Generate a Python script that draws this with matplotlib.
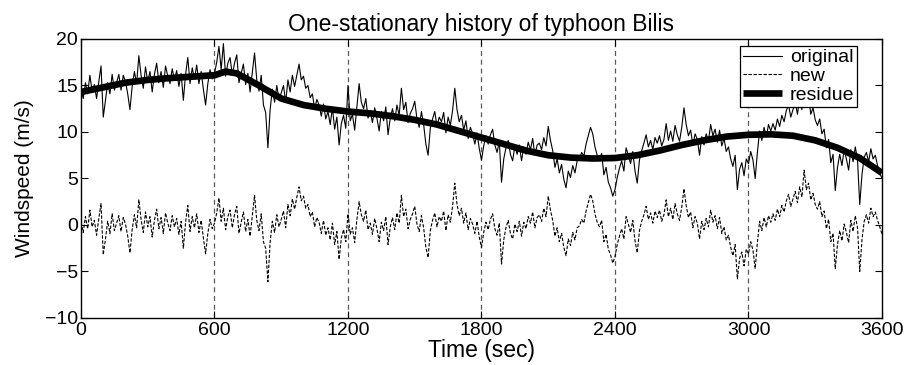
import numpy as np
import matplotlib
matplotlib.use("Agg")
import matplotlib.pyplot as plt

# время отсчётов (с), шаг 10 с
time_step = 10
time_end = 3600

# флуктуации ("new"), значения
new_speed = [
    0.3, -0.8, 0.9, -0.4, 1.6, -0.2, 0.5, -1.1, 0.7, 2.3, -3.2, -1.5, 0.4, -0.9, 1.2, -0.6, 0.2, 1.0, -0.7, 0.8,
    0.1, -1.2, -3.0, -0.5, 1.1, -0.3, 2.7, 0.6, -0.8, 1.4, -0.2, 0.9, -1.3, 0.5, 1.7, -0.4, 0.8, -0.9, 1.3, 0.2,
    -0.6, 1.0, -0.2, 0.7, -1.0, 0.4, -2.5, 0.3, 2.1, -0.7, 0.9, -0.3, 1.2, -0.8, 0.5, -1.4, -3.1, -0.9, 0.6, -0.4,
    0.2, 1.3, 2.9, 0.4, 1.8, -0.5, 0.9, 1.6, -0.3, 1.1, 2.0, -0.9, 0.3, 1.4, -0.7, 0.6, -1.2, 1.0, 3.2, 0.5,
    -0.6, 1.2, -1.8, -2.5, -6.1, -1.9, 0.4, -0.8, 1.1, -0.2, 0.6, 1.5, -0.3, 2.2, 1.0, 2.8, 1.7, 3.0, 4.1, 2.6,
    3.1, 1.8, 2.2, 0.9, 1.4, -0.2, 0.8, 0.3, -0.9, 0.5, -1.1, -0.3, -1.6, 0.2, -2.1, -0.7, -3.7, -1.4, -0.5, -1.8,
    1.2, -1.0, -0.3, -1.9, 0.6, 2.5, 1.1, 0.4, 1.6, -0.5, 0.2, -1.0, 0.7, -0.4, -1.8, 0.3, -0.6, 0.9, -2.1, -0.2,
    0.8, -0.5, 1.3, 0.2, 3.2, 0.9, 1.7, -0.4, 0.6, 1.2, 2.0, 0.1, -0.7, 1.0, -0.3, -2.4, -3.5, -0.6, 0.5, 1.3,
    -0.2, 0.9, 0.4, 1.5, -0.6, 1.1, 0.3, 2.0, 4.5, 2.2, 1.0, 1.8, 0.2, 1.3, -0.5, 0.7, 0.1, -0.9, 0.4, -1.3,
    -2.4, -0.8, 0.3, -0.5, 0.6, 1.2, -0.4, -1.1, 0.2, -4.2, -1.6, -0.3, 0.5, -0.9, -1.5, 0.1, -0.7, 0.4, -1.2, 0.3,
    -0.4, 0.9, 0.2, 1.4, -0.3, 0.8, 1.1, 0.4, 1.8, 0.9, 3.1, 1.6, 0.5, -1.2, -0.3, -1.8, -0.9, -2.4, -3.3, -1.5,
    -2.2, -0.8, -1.6, -0.3, -0.1, 0.6, 0.2, 1.5, 2.4, 3.3, 2.6, 1.2, 0.3, -0.2, 0.5, -1.8, -1.0, -2.6, -3.2, -4.1,
    -3.4, -2.1, -1.2, -0.4, -1.5, 0.9, 0.1, -0.8, 0.5, -1.7, -3.0, -0.6, 0.4, 1.1, 2.0, 0.6, 1.3, 0.2, 1.5, 0.8,
    1.6, 0.4, 1.1, 2.7, 0.9, 1.8, 0.6, 2.3, 1.2, 0.5, 1.9, 3.9, 2.1, 0.8, 1.4, -0.3, 0.9, 0.2, -1.5, 0.4,
    -0.5, 0.7, -0.2, 1.6, 0.3, 1.0, -0.4, 0.8, -0.9, -0.2, -1.6, -1.1, -2.4, -3.3, -2.1, -5.8, -3.6, -2.9, -4.4, -2.6,
    -3.1, -1.8, -2.7, -4.7, -1.9, 0.4, -0.6, 0.8, -0.2, 1.0, 0.3, 1.2, 0.5, 1.7, 0.9, 2.1, 1.4, 2.6, 3.3, 2.0,
    2.8, 3.6, 2.4, 4.1, 3.0, 5.9, 3.8, 4.5, 2.7, 3.4, 2.2, 1.7, 2.5, 0.9, 1.5, -0.4, 0.6, -1.8, -0.9, -4.7,
    -2.1, -0.6, -1.7, 0.1, -0.8, -1.9, 0.5, -0.7, 1.0, -0.3, -5.0, -1.6, 0.4, 1.1, 0.2, 1.8, 0.9, 1.4, 0.5, -0.2,
    -1.0,
]

# исходный ряд ("original")
original_speed = [
    14.6, 13.6, 15.3, 14.1, 16.1, 14.4, 15.1, 13.6, 15.4, 17.1, 11.6, 13.4, 15.3, 14.1, 16.2, 14.5, 15.3, 16.2, 14.5, 16.1,
    15.4, 14.1, 12.4, 14.9, 16.5, 15.2, 18.2, 16.1, 14.7, 17.0, 15.4, 16.5, 14.3, 16.2, 17.4, 15.3, 16.5, 14.8, 17.1, 16.0,
    15.2, 16.8, 15.6, 16.6, 14.9, 16.3, 13.4, 16.2, 18.0, 15.2, 16.9, 15.7, 17.2, 15.2, 16.5, 14.6, 12.9, 15.2, 16.7, 15.7,
    16.3, 17.5, 19.2, 16.7, 19.5, 16.0, 17.4, 18.0, 16.1, 17.4, 18.3, 15.3, 16.3, 17.3, 15.1, 16.3, 14.3, 16.4, 18.5, 15.6,
    14.4, 16.1, 12.9, 12.1, 8.3, 12.4, 14.6, 13.2, 15.0, 13.5, 14.2, 15.0, 13.2, 15.6, 14.3, 16.1, 14.9, 16.1, 17.3, 15.6,
    16.0, 14.7, 15.0, 13.7, 14.1, 12.5, 13.5, 12.9, 11.7, 13.0, 11.4, 12.2, 10.8, 12.6, 10.3, 11.6, 8.6, 10.9, 11.8, 10.4,
    15.0, 11.2, 11.9, 10.2, 12.7, 15.2, 13.2, 12.5, 13.6, 11.5, 12.2, 11.0, 12.6, 11.5, 10.1, 12.2, 11.2, 12.7, 9.7, 11.5,
    12.5, 11.2, 12.9, 11.8, 14.7, 12.4, 13.2, 11.0, 12.0, 12.5, 13.3, 11.4, 10.5, 12.2, 10.8, 8.7, 7.5, 10.4, 11.4, 12.2,
    10.6, 11.6, 11.1, 12.1, 9.9, 11.6, 10.7, 12.3, 14.7, 12.4, 11.1, 11.8, 10.2, 11.2, 9.3, 10.5, 9.8, 8.7, 9.9, 8.2,
    7.0, 8.5, 9.6, 8.7, 9.7, 10.3, 8.6, 7.8, 9.0, 4.6, 7.1, 8.3, 9.1, 7.6, 6.9, 8.5, 7.6, 8.6, 6.9, 8.4,
    7.6, 8.9, 8.1, 9.3, 7.5, 8.6, 8.8, 8.1, 9.4, 8.5, 10.6, 9.1, 8.0, 6.2, 7.1, 5.6, 6.5, 4.9, 4.0, 5.8,
    5.1, 6.4, 5.6, 6.9, 7.1, 7.8, 7.4, 8.7, 9.6, 10.5, 9.8, 8.4, 7.5, 7.0, 7.7, 5.4, 6.2, 4.6, 4.0, 3.1,
    3.8, 5.1, 6.1, 6.9, 5.8, 8.3, 7.5, 6.6, 7.9, 5.8, 4.5, 7.0, 8.0, 8.8, 9.7, 8.4, 9.1, 8.1, 9.4, 8.8,
    9.6, 8.5, 9.2, 10.9, 9.1, 10.1, 9.0, 10.7, 9.7, 9.0, 10.5, 12.6, 10.8, 9.6, 10.2, 8.6, 9.8, 9.2, 7.5, 9.5,
    8.6, 9.8, 9.0, 10.8, 9.6, 10.3, 8.9, 10.2, 8.5, 9.3, 7.9, 8.4, 7.1, 6.3, 7.5, 3.8, 6.0, 6.7, 5.3, 7.1,
    6.6, 7.9, 7.0, 5.0, 7.8, 10.1, 9.1, 10.5, 9.5, 10.8, 10.1, 10.9, 10.2, 11.4, 10.6, 11.8, 11.1, 12.3, 12.9, 11.6,
    12.4, 13.2, 11.9, 13.6, 12.4, 15.3, 13.1, 13.8, 11.9, 12.6, 11.3, 10.7, 11.4, 9.8, 10.3, 8.3, 9.2, 6.7, 7.6, 3.7,
    6.2, 7.6, 6.4, 8.1, 7.1, 5.9, 8.1, 6.8, 8.4, 7.0, 2.2, 5.4, 7.3, 7.8, 6.8, 8.2, 7.1, 7.5, 6.4, 5.6,
    5.0,
]

# тренд ("residue")
residue_time = [0, 100, 200, 300, 400, 500, 600, 650, 700, 800, 900, 1000, 1100, 1200, 1300, 1400,
                1500, 1600, 1700, 1800, 1900, 2000, 2100, 2200, 2300, 2400, 2500, 2600, 2700, 2800,
                2900, 3000, 3100, 3200, 3300, 3400, 3500, 3600]
residue_speed = [14.3, 14.8, 15.3, 15.6, 15.8, 15.95, 16.1, 16.5, 16.3, 15.0, 13.6, 12.9, 12.5, 12.2, 12.0, 11.7,
                 11.3, 10.8, 10.1, 9.4, 8.7, 8.0, 7.5, 7.25, 7.15, 7.2, 7.5, 8.0, 8.6, 9.1,
                 9.5, 9.7, 9.75, 9.6, 9.1, 8.3, 7.2, 5.6]

x_ticks = [0, 600, 1200, 1800, 2400, 3000, 3600]
y_ticks = [-10, -5, 0, 5, 10, 15, 20]
segment_marks = [600, 1200, 1800, 2400, 3000]

plt.rcParams['font.family'] = ['Liberation Sans', 'DejaVu Sans']

t = np.arange(0, time_end + 1, time_step)

fig = plt.figure(figsize=(9.06, 3.65), dpi=100)
ax = fig.add_axes([0.0894, 0.1288, 0.8841, 0.7644])

# вертикальные границы сегментов
for xm in segment_marks:
    ax.axvline(xm, color='0.35', linestyle=(0, (4, 3)), linewidth=0.9, zorder=1)

ax.plot(t, original_speed, color='black', linewidth=0.8, label='original', zorder=2)
ax.plot(t, new_speed, color='black', linestyle='--', dashes=(3, 1.5), linewidth=0.8, label='new', zorder=2)
ax.plot(residue_time, residue_speed, color='black', linewidth=4.8, solid_capstyle='butt',
        label='residue', zorder=3)

ax.set_xlim(0, 3600)
ax.set_ylim(-10, 20)
ax.set_xticks(x_ticks)
ax.set_yticks(y_ticks)
ax.tick_params(direction='in', top=True, right=True, length=5, width=0.8, labelsize=14)
ax.tick_params(axis='x', pad=3)
ax.tick_params(axis='y', pad=2)
for s in ax.spines.values():
    s.set_linewidth(1.0)

ax.set_title('One-stationary history of typhoon Bilis', fontsize=16.5, pad=6)
ax.set_xlabel('Time (sec)', fontsize=16.5, labelpad=0)
ax.set_ylabel('Windspeed (m/s)', fontsize=15, labelpad=8)

leg = ax.legend(loc='upper right', bbox_to_anchor=(0.969, 0.975), fontsize=14, frameon=True,
                fancybox=False, edgecolor='black', framealpha=1, borderpad=0.15, labelspacing=0.05,
                handlelength=2.0, handletextpad=0.4, borderaxespad=0)
leg.get_frame().set_linewidth(0.9)
leg.set_zorder(5)

fig.savefig('out.png', dpi=100)
